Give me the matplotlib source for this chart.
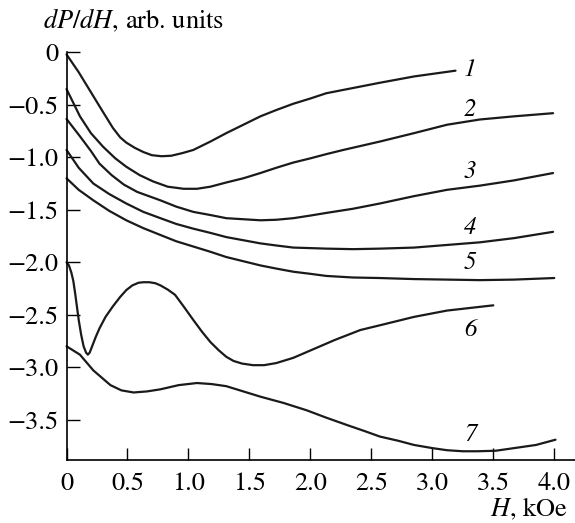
import numpy as np
import matplotlib
matplotlib.use('Agg')
from matplotlib import pyplot as plt

plt.rcParams['font.family'] = ['STIXGeneral', 'DejaVu Serif']
plt.rcParams['mathtext.fontset'] = 'stix'

# curves: H (kOe), dP/dH (arb. units)
h1 = [0.0, 0.10, 0.20, 0.30, 0.38, 0.44, 0.49, 0.56, 0.63, 0.70, 0.78, 0.86, 0.95, 1.04, 1.18, 1.31, 1.45, 1.59, 1.72, 1.86, 2.0, 2.13, 2.35, 2.57, 2.85, 3.19]
y1 = [-0.02, -0.19, -0.38, -0.57, -0.72, -0.81, -0.86, -0.91, -0.95, -0.98, -0.99, -0.985, -0.96, -0.93, -0.85, -0.77, -0.69, -0.61, -0.55, -0.49, -0.44, -0.39, -0.34, -0.29, -0.23, -0.175]

h2 = [0.0, 0.11, 0.20, 0.30, 0.40, 0.49, 0.60, 0.71, 0.83, 0.96, 1.07, 1.18, 1.31, 1.45, 1.59, 1.72, 1.86, 2.0, 2.13, 2.27, 2.42, 2.57, 2.85, 3.12, 3.39, 3.67, 3.99]
y2 = [-0.35, -0.61, -0.77, -0.90, -1.01, -1.09, -1.17, -1.23, -1.28, -1.30, -1.30, -1.28, -1.24, -1.20, -1.15, -1.10, -1.05, -1.01, -0.97, -0.93, -0.89, -0.85, -0.77, -0.69, -0.64, -0.61, -0.58]

h3 = [0.0, 0.11, 0.20, 0.27, 0.37, 0.47, 0.58, 0.77, 0.90, 1.04, 1.18, 1.31, 1.45, 1.59, 1.72, 1.86, 2.0, 2.13, 2.35, 2.57, 2.85, 3.12, 3.39, 3.67, 3.99]
y3 = [-0.635, -0.80, -0.94, -1.06, -1.17, -1.26, -1.33, -1.41, -1.47, -1.52, -1.55, -1.58, -1.59, -1.60, -1.595, -1.58, -1.555, -1.53, -1.49, -1.44, -1.37, -1.31, -1.27, -1.22, -1.15]

h4 = [0.0, 0.10, 0.22, 0.35, 0.49, 0.63, 0.77, 0.90, 1.04, 1.18, 1.31, 1.45, 1.59, 1.72, 1.86, 2.0, 2.13, 2.35, 2.57, 2.85, 3.12, 3.39, 3.67, 3.99]
y4 = [-0.93, -1.10, -1.25, -1.35, -1.44, -1.52, -1.58, -1.635, -1.68, -1.72, -1.76, -1.79, -1.82, -1.84, -1.86, -1.865, -1.87, -1.875, -1.87, -1.86, -1.835, -1.81, -1.77, -1.71]

h5 = [0.0, 0.10, 0.22, 0.35, 0.49, 0.63, 0.77, 0.90, 1.04, 1.18, 1.31, 1.45, 1.59, 1.72, 1.86, 2.0, 2.13, 2.35, 2.57, 2.85, 3.12, 3.39, 3.67, 4.0]
y5 = [-1.20, -1.31, -1.41, -1.51, -1.60, -1.675, -1.74, -1.80, -1.85, -1.90, -1.95, -1.99, -2.03, -2.06, -2.09, -2.11, -2.13, -2.145, -2.15, -2.16, -2.165, -2.17, -2.165, -2.15]

h6 = [0.0, 0.02, 0.04, 0.056, 0.07, 0.085, 0.10, 0.12, 0.14, 0.16, 0.175, 0.19, 0.21, 0.24, 0.27, 0.32, 0.38, 0.44, 0.49, 0.54, 0.59, 0.63, 0.68, 0.73, 0.77, 0.83, 0.89, 0.96, 1.04, 1.11, 1.18, 1.25, 1.31, 1.37, 1.44, 1.53, 1.62, 1.72, 1.86, 2.0, 2.2, 2.41, 2.57, 2.85, 3.12, 3.50]
y6 = [-2.0, -2.03, -2.10, -2.18, -2.29, -2.42, -2.55, -2.69, -2.80, -2.86, -2.88, -2.86, -2.80, -2.71, -2.63, -2.52, -2.42, -2.33, -2.265, -2.22, -2.195, -2.19, -2.19, -2.20, -2.22, -2.26, -2.31, -2.42, -2.55, -2.66, -2.76, -2.84, -2.90, -2.94, -2.965, -2.98, -2.98, -2.96, -2.91, -2.84, -2.74, -2.645, -2.60, -2.52, -2.46, -2.41]

h7 = [0.0, 0.11, 0.22, 0.36, 0.45, 0.55, 0.66, 0.77, 0.92, 1.07, 1.19, 1.31, 1.45, 1.59, 1.78, 1.97, 2.13, 2.30, 2.45, 2.57, 2.72, 2.85, 3.0, 3.12, 3.25, 3.37, 3.52, 3.67, 3.85, 4.01]
y7 = [-2.80, -2.88, -3.03, -3.17, -3.22, -3.24, -3.23, -3.21, -3.17, -3.15, -3.16, -3.18, -3.23, -3.28, -3.34, -3.41, -3.48, -3.55, -3.61, -3.66, -3.70, -3.74, -3.77, -3.79, -3.80, -3.80, -3.795, -3.77, -3.74, -3.69]

curves = [(h1, y1), (h2, y2), (h3, y3), (h4, y4), (h5, y5), (h6, y6), (h7, y7)]
labels = ['1', '2', '3', '4', '5', '6', '7']
label_pos = [(3.31, -0.17), (3.31, -0.55), (3.31, -1.14), (3.31, -1.67),
             (3.31, -2.01), (3.31, -2.645), (3.31, -3.645)]

xticks = [0, 0.5, 1.0, 1.5, 2.0, 2.5, 3.0, 3.5, 4.0]
xtick_labels = ['0', '0.5', '1.0', '1.5', '2.0', '2.5', '3.0', '3.5', '4.0']
yticks = [0, -0.5, -1.0, -1.5, -2.0, -2.5, -3.0, -3.5]
ytick_labels = ['0', '\u22120.5', '\u22121.0', '\u22121.5', '\u22122.0', '\u22122.5', '\u22123.0', '\u22123.5']


fig = plt.figure(figsize=(5.75, 5.23), dpi=100)
ax = fig.add_axes([0.1157, 0.1205, 0.8843, 0.7795])

for (h, y) in curves:
    ax.plot(h, y, color='#1a1a1a', lw=1.6, clip_on=False,
            solid_joinstyle='round', solid_capstyle='round')

for lab, (x, y) in zip(labels, label_pos):
    ax.text(x, y, lab, fontsize=18, fontstyle='italic', ha='center', va='center')

ax.set_xlim(0, 4.17)
ax.set_ylim(-3.883, 0.0)
ax.set_xticks(xticks)
ax.set_xticklabels(xtick_labels)
ax.set_yticks(yticks)
ax.set_yticklabels(ytick_labels)
ax.tick_params(direction='in', length=9, width=1.0, labelsize=19)
ax.tick_params(axis='x', pad=9)
ax.tick_params(axis='y', pad=6)

for s in ['top', 'right']:
    ax.spines[s].set_visible(False)
for s in ['left', 'bottom']:
    ax.spines[s].set_linewidth(1.2)

fig.text(0.075, 0.946, r'$dP/dH$, arb. units', fontsize=19, ha='left', va='baseline')
fig.text(0.988, 0.012, r'$H$, kOe', fontsize=19, ha='right', va='baseline')

plt.savefig('out.png', dpi=100)
plt.close()
